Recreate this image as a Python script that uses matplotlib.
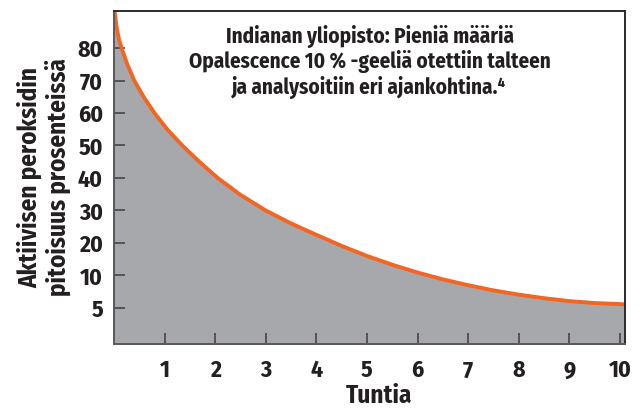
import matplotlib
matplotlib.use("Agg")
import matplotlib.pyplot as plt

# Data (hours vs. position on the chart's vertical scale)
hours = [0, 0.05, 0.1, 0.15, 0.25, 0.4, 0.6, 0.8, 1.05, 1.35, 1.7, 2.05, 2.5, 3.0, 3.5,
         4.0, 4.5, 5.0, 5.5, 6.0, 6.5, 7.0, 7.5, 8.0, 8.5, 9.0, 9.5, 10.0, 10.1]
peroxide = [93, 86.5, 82.5, 80, 75.5, 70, 64.6, 60, 55, 50, 44.8, 40, 34.8, 30, 26,
            22.5, 19.1, 16, 13.3, 10.9, 8.8, 7, 5.4, 4.1, 3, 2.1, 1.5, 1.2, 1.1]

x_ticks = [1, 2, 3, 4, 5, 6, 7, 8, 9, 10]
x_tick_labels = ["1", "2", "3", "4", "5", "6", "7", "8", "9", "10"]
y_ticks = [0, 10, 20, 30, 40, 50, 60, 70, 80]
y_tick_labels = ["5", "10", "20", "30", "40", "50", "60", "70", "80"]

title_text = ("Indianan yliopisto: Pieniä määriä\n"
              "Opalescence 10 % -geeliä otettiin talteen\n"
              "ja analysoitiin eri ajankohtina.\u2074")
x_label = "Tuntia"
y_label = "Aktiivisen peroksidin\npitoisuus prosenteissä"

FONT = ["Fira Sans Condensed", "DejaVu Sans"]
TXT = "#231f20"

fig = plt.figure(figsize=(6.42, 4.16), dpi=100)
ax = fig.add_axes([114/642, 1-344/416, (625-114)/642, (344-11)/416])

ymin, ymax = -11.1, 91.4
ax.fill_between(hours, peroxide, ymin, color="#a7a8ac", lw=0, zorder=1)
ax.plot(hours, peroxide, color="#f26522", lw=2.8, zorder=3, solid_capstyle="butt",
        solid_joinstyle="round")

ax.set_xlim(0, 10.1)
ax.set_ylim(ymin, ymax)

ax.set_xticks(x_ticks)
ax.set_xticklabels(x_tick_labels, family=FONT, fontsize=17, fontweight="bold", color=TXT)
ax.set_yticks(y_ticks)
ax.set_yticklabels(y_tick_labels, family=FONT, fontsize=17, fontweight="bold", color=TXT)
ax.tick_params(axis="both", direction="in", length=8, width=1.3, color="#4d4d4f", zorder=4)
ax.tick_params(axis="x", pad=11)
ax.tick_params(axis="y", pad=8)

for s in ax.spines.values():
    s.set_color("#2d2a2b")
    s.set_linewidth(1.4)
    s.set_zorder(5)
ax.spines["left"].set_color("#58585c")
ax.spines["bottom"].set_color("#58585c")

ax.set_xlabel(x_label, family=FONT, fontsize=18, fontweight="bold", color=TXT, labelpad=1)
ax.xaxis.label.set_x(0.518)
ax.set_ylabel(y_label, family=FONT, fontsize=18, fontweight="bold", color=TXT,
              labelpad=5, linespacing=1.12)

ax.text(0.5, 0.957, title_text, transform=ax.transAxes, ha="center", va="top",
        family=FONT, fontsize=15.2, fontweight="bold", color=TXT, linespacing=1.12, zorder=6)

fig.savefig("out.png", dpi=100)
